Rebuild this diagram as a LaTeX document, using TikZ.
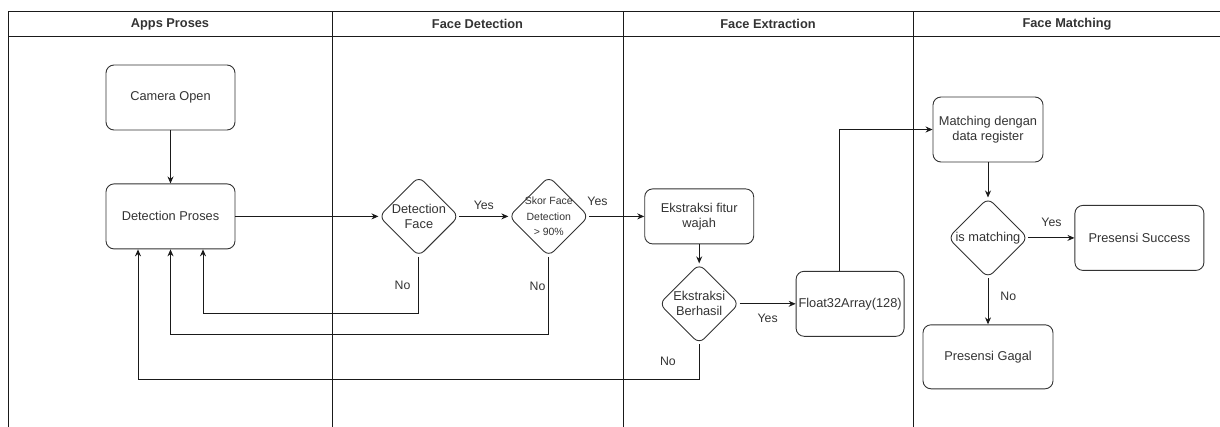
\documentclass[tikz,border=0pt]{standalone}
\usepackage{fontspec}
\setmainfont{Liberation Sans}
\usetikzlibrary{positioning,arrows.meta,shapes.geometric}
\definecolor{darkC}{HTML}{333333}
\definecolor{lineC}{HTML}{1A1A1A}

\begin{document}
\begin{tikzpicture}[
  x=1pt, y=-1pt,
  >={Stealth[length=7pt,width=6pt]},
  every node/.style={font=\fontsize{12.8}{15}\selectfont, text=darkC},
  procbox/.style={draw=darkC, line width=0.9pt, rounded corners=8pt,
                  minimum width=#1, minimum height=65pt,
                  inner sep=2pt, align=center},
  procbox/.default=129pt,
  decbox/.style={draw=darkC, line width=0.9pt, shape=diamond, rounded corners=7pt,
                 minimum width=80pt, minimum height=80pt,
                 inner sep=-6pt, align=center},
  flowlbl/.style={font=\fontsize{12.3}{14}\selectfont, inner sep=2pt},
  lanehead/.style={font=\fontsize{12.8}{15}\selectfont\bfseries},
  lane/.style={line width=1pt, draw=lineC},
  flow/.style={->, line width=0.9pt, draw=lineC},
]
\useasboundingbox (0,0) rectangle (1220,426);

% ── Swimlanes ──
\draw[lane] (8,440) -- (8,11) -- (1230,11);
\draw[lane] (8,36) -- (1230,36);
\foreach \lx in {332,623,913}
  \draw[lane] (\lx,11) -- (\lx,440);

\node[lanehead] (hApps)  at (170,24)   {Apps Proses};
\node[lanehead] (hDet)   at (477.5,24) {Face Detection};
\node[lanehead] (hExt)   at (768,24)   {Face Extraction};
\node[lanehead] (hMatch) at (1067,24)  {Face Matching};

% ── Apps Proses ──
\node[procbox] (cam) at (170.5,97.5) {Camera Open};
\node[procbox, below=53pt of cam] (det) {Detection Proses};

% ── Face Detection ──
\node[decbox, right=143pt of det] (dface) {Detection\\Face};
\node[decbox, right=49pt of dface,
      font=\fontsize{10.5}{15.5}\selectfont] (skor) {Skor Face\\Detection\\> 90\%};

% ── Face Extraction ──
\node[procbox=109pt, minimum height=55pt, right=55pt of skor] (ekstr) {Ekstraksi fitur\\wajah};
\node[decbox, below=19pt of ekstr] (berhasil) {Ekstraksi\\Berhasil};
\node[procbox=108pt, right=56pt of berhasil] (float) {Float32Array(128)};

% ── Face Matching ──
\node[procbox=110pt] (match) at (988,129.5) {Matching dengan\\data register};
\node[decbox, below=35pt of match] (ism) {is matching};
\node[procbox, right=46pt of ism] (succ) {Presensi Success};
\node[procbox=130pt, minimum height=64pt, below=46pt of ism] (gagal) {Presensi Gagal};

% ── Main flow ──
\draw[flow] (cam) -- (det);
\draw[flow] (det) -- (dface);
\draw[flow] (dface) -- node[flowlbl, above=4pt]{Yes} (skor);
\draw[flow] (skor) -- node[flowlbl, above=8pt, pos=0.15]{Yes} (ekstr);
\draw[flow] (ekstr) -- (berhasil);
\draw[flow] (berhasil) -- node[flowlbl, below=8pt]{Yes} (float);
\draw[flow] ([xshift=-11pt]float.north) |- (match.west);
\draw[flow] (match) -- (ism);
\draw[flow] (ism) -- node[flowlbl, above=9pt]{Yes} (succ);
\draw[flow] (ism) -- node[flowlbl, right=10pt, pos=0.4]{No} (gagal);

% ── Retries back to Detection Proses ──
\draw[flow] (dface.south) -- node[flowlbl, left=6pt]{No} ++(0,57)
  -| ([xshift=32.5pt]det.south);
\draw[flow] (skor.south) -- node[flowlbl, left=1pt, pos=0.38]{No} ++(0,78)
  -| (det.south);
\draw[flow] (berhasil.south) -- node[flowlbl, left=21pt]{No} ++(0,35)
  -| ([xshift=-32.5pt]det.south);

\end{tikzpicture}
\end{document}
